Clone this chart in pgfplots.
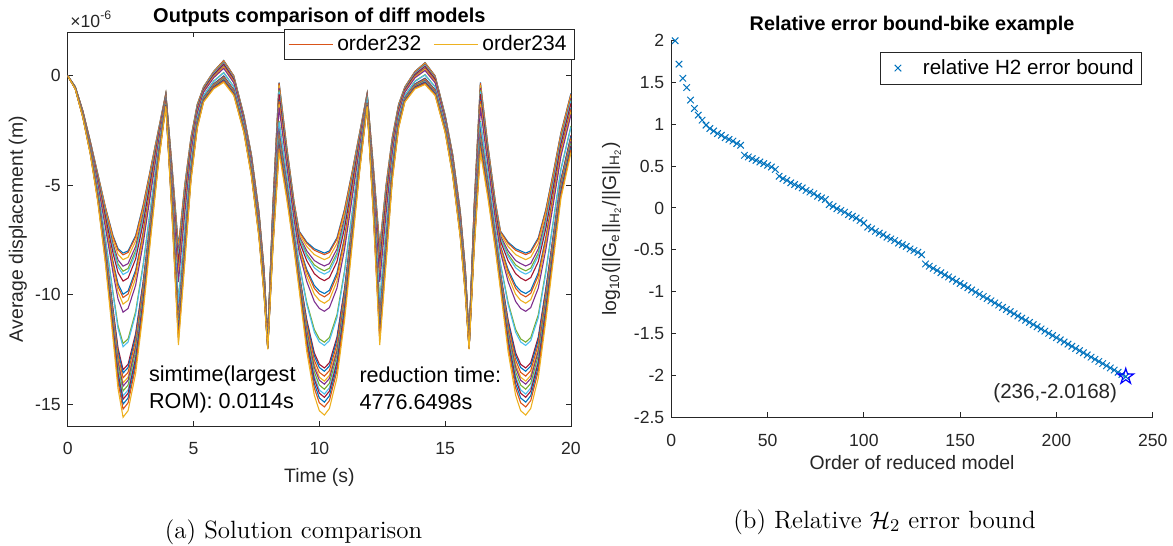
\documentclass[border=0pt]{standalone}
\usepackage{pgfplots}
\usepackage{pgfplotstable}
\pgfplotsset{compat=1.18}
\usepackage{fontspec}
\newfontfamily\arial{Liberation Sans}
\definecolor{mblue}{rgb}{0,0.4470,0.7410}
\definecolor{morange}{rgb}{0.8500,0.3250,0.0980}
\definecolor{myellow}{rgb}{0.9290,0.6940,0.1250}
\definecolor{mpurple}{rgb}{0.4940,0.1840,0.5560}
\definecolor{mgreen}{rgb}{0.4660,0.6740,0.1880}
\definecolor{mcyan}{rgb}{0.3010,0.7450,0.9330}
\definecolor{mred}{rgb}{0.6350,0.0780,0.1840}
\definecolor{mgray}{rgb}{0.15,0.15,0.15}
\pgfdeclareplotmark{pentagram}{%
  \pgfpathmoveto{\pgfpointpolar{90}{\pgfplotmarksize}}%
  \pgfpathlineto{\pgfpointpolar{126}{0.382\pgfplotmarksize}}%
  \pgfpathlineto{\pgfpointpolar{162}{\pgfplotmarksize}}%
  \pgfpathlineto{\pgfpointpolar{198}{0.382\pgfplotmarksize}}%
  \pgfpathlineto{\pgfpointpolar{234}{\pgfplotmarksize}}%
  \pgfpathlineto{\pgfpointpolar{270}{0.382\pgfplotmarksize}}%
  \pgfpathlineto{\pgfpointpolar{306}{\pgfplotmarksize}}%
  \pgfpathlineto{\pgfpointpolar{342}{0.382\pgfplotmarksize}}%
  \pgfpathlineto{\pgfpointpolar{18}{\pgfplotmarksize}}%
  \pgfpathlineto{\pgfpointpolar{54}{0.382\pgfplotmarksize}}%
  \pgfpathclose
  \pgfusepathqstroke
}
\pgfplotstableread{
t y1 y2 y3 y4 y5 y6 y7 y8 y9 y10 y11 y12 y13 y14 y15 y16 y17 y18 y19 y20 y21 y22 y23 y24
0 0 0 0 0 0 0 0 0 0 0 0 0 0 0 0 0 0 0 0 0 0 0 0 0
0.3 -0.50 -0.50 -0.50 -0.51 -0.51 -0.51 -0.52 -0.53 -0.53 -0.53 -0.54 -0.56 -0.56 -0.57 -0.57 -0.58 -0.58 -0.58 -0.58 -0.59 -0.59 -0.59 -0.60 -0.60
0.6 -1.60 -1.60 -1.61 -1.62 -1.63 -1.64 -1.65 -1.68 -1.68 -1.69 -1.71 -1.77 -1.77 -1.81 -1.82 -1.83 -1.84 -1.84 -1.85 -1.86 -1.87 -1.88 -1.89 -1.90
0.9 -3.00 -3.01 -3.02 -3.05 -3.07 -3.08 -3.10 -3.15 -3.16 -3.19 -3.22 -3.33 -3.34 -3.43 -3.44 -3.46 -3.47 -3.49 -3.50 -3.52 -3.53 -3.55 -3.57 -3.60
1.2 -4.50 -4.51 -4.55 -4.60 -4.64 -4.67 -4.72 -4.83 -4.85 -4.90 -4.97 -5.22 -5.24 -5.42 -5.45 -5.49 -5.53 -5.55 -5.59 -5.63 -5.66 -5.70 -5.74 -5.80
1.5 -6.00 -6.03 -6.10 -6.21 -6.29 -6.34 -6.44 -6.65 -6.70 -6.81 -6.94 -7.43 -7.48 -7.85 -7.90 -7.98 -8.05 -8.11 -8.18 -8.26 -8.31 -8.39 -8.47 -8.60
1.8 -7.30 -7.35 -7.49 -7.68 -7.82 -7.91 -8.10 -8.48 -8.57 -8.76 -8.99 -9.89 -9.98 -10.64 -10.73 -10.87 -11.01 -11.11 -11.25 -11.39 -11.48 -11.62 -11.77 -12.00
2.0 -7.90 -7.96 -8.16 -8.41 -8.60 -8.73 -8.99 -9.50 -9.63 -9.88 -10.20 -11.42 -11.55 -12.44 -12.57 -12.76 -12.96 -13.08 -13.28 -13.47 -13.60 -13.79 -13.98 -14.30
2.2 -8.10 -8.18 -8.40 -8.70 -8.93 -9.08 -9.38 -9.98 -10.13 -10.43 -10.80 -12.23 -12.38 -13.43 -13.58 -13.80 -14.03 -14.18 -14.40 -14.63 -14.78 -15.00 -15.23 -15.60
2.4 -8.00 -8.07 -8.29 -8.58 -8.80 -8.95 -9.24 -9.83 -9.97 -10.26 -10.63 -12.02 -12.16 -13.18 -13.33 -13.55 -13.77 -13.91 -14.13 -14.35 -14.50 -14.72 -14.94 -15.30
2.7 -7.30 -7.36 -7.55 -7.80 -7.99 -8.12 -8.37 -8.88 -9.00 -9.25 -9.57 -10.77 -10.89 -11.77 -11.90 -12.09 -12.28 -12.40 -12.59 -12.78 -12.91 -13.10 -13.29 -13.60
3.0 -5.90 -5.95 -6.10 -6.29 -6.44 -6.54 -6.73 -7.13 -7.22 -7.42 -7.66 -8.60 -8.69 -9.38 -9.48 -9.62 -9.77 -9.87 -10.02 -10.16 -10.26 -10.41 -10.56 -10.80
3.3 -4.20 -4.23 -4.33 -4.46 -4.55 -4.62 -4.74 -5.00 -5.06 -5.19 -5.35 -5.96 -6.02 -6.47 -6.54 -6.63 -6.73 -6.79 -6.89 -6.98 -7.05 -7.14 -7.24 -7.40
3.6 -2.50 -2.52 -2.56 -2.63 -2.68 -2.71 -2.77 -2.90 -2.93 -3.00 -3.08 -3.38 -3.41 -3.64 -3.67 -3.72 -3.76 -3.80 -3.84 -3.89 -3.92 -3.97 -4.02 -4.10
3.9 -0.80 -0.81 -0.82 -0.85 -0.87 -0.88 -0.90 -0.95 -0.96 -0.99 -1.02 -1.13 -1.14 -1.23 -1.24 -1.26 -1.27 -1.29 -1.30 -1.32 -1.33 -1.35 -1.37 -1.40
4.15 -4.20 -4.22 -4.29 -4.38 -4.45 -4.50 -4.59 -4.78 -4.82 -4.91 -5.03 -5.47 -5.51 -5.83 -5.88 -5.95 -6.02 -6.06 -6.13 -6.20 -6.25 -6.32 -6.39 -6.50
4.4 -7.80 -7.85 -7.98 -8.16 -8.30 -8.39 -8.57 -8.93 -9.02 -9.20 -9.42 -10.28 -10.37 -11.00 -11.09 -11.22 -11.36 -11.45 -11.58 -11.72 -11.81 -11.94 -12.08 -12.30
4.65 -5.00 -5.04 -5.14 -5.29 -5.40 -5.47 -5.61 -5.90 -5.97 -6.12 -6.30 -6.98 -7.05 -7.56 -7.63 -7.74 -7.84 -7.92 -8.02 -8.13 -8.20 -8.31 -8.42 -8.60
4.9 -2.80 -2.82 -2.88 -2.96 -3.02 -3.06 -3.14 -3.30 -3.34 -3.42 -3.52 -3.90 -3.94 -4.22 -4.26 -4.32 -4.38 -4.42 -4.48 -4.54 -4.58 -4.64 -4.70 -4.80
5.15 -1.30 -1.31 -1.34 -1.39 -1.42 -1.44 -1.49 -1.58 -1.60 -1.64 -1.70 -1.91 -1.93 -2.08 -2.10 -2.14 -2.17 -2.19 -2.22 -2.26 -2.28 -2.31 -2.35 -2.40
5.4 -0.50 -0.51 -0.53 -0.56 -0.58 -0.59 -0.62 -0.68 -0.69 -0.72 -0.75 -0.89 -0.90 -1.00 -1.01 -1.03 -1.05 -1.07 -1.09 -1.11 -1.12 -1.14 -1.17 -1.20
5.8 0.20 0.19 0.17 0.14 0.11 0.10 0.06 0.00 -0.02 -0.05 -0.09 -0.24 -0.26 -0.37 -0.38 -0.41 -0.43 -0.45 -0.47 -0.50 -0.51 -0.54 -0.56 -0.60
6.2 0.70 0.69 0.66 0.62 0.59 0.57 0.53 0.45 0.43 0.39 0.34 0.15 0.13 -0.01 -0.03 -0.06 -0.09 -0.11 -0.14 -0.17 -0.19 -0.22 -0.25 -0.30
6.6 0.00 -0.01 -0.04 -0.07 -0.10 -0.12 -0.15 -0.23 -0.24 -0.28 -0.32 -0.50 -0.51 -0.64 -0.66 -0.68 -0.71 -0.73 -0.76 -0.78 -0.80 -0.83 -0.86 -0.90
7.0 -1.80 -1.81 -1.83 -1.86 -1.89 -1.90 -1.94 -2.00 -2.02 -2.05 -2.09 -2.24 -2.26 -2.37 -2.38 -2.41 -2.43 -2.45 -2.47 -2.50 -2.51 -2.54 -2.56 -2.60
7.3 -3.60 -3.61 -3.64 -3.68 -3.71 -3.73 -3.77 -3.85 -3.87 -3.91 -3.96 -4.15 -4.17 -4.31 -4.33 -4.36 -4.39 -4.41 -4.44 -4.47 -4.49 -4.52 -4.55 -4.60
7.6 -6.20 -6.21 -6.25 -6.30 -6.33 -6.36 -6.40 -6.50 -6.52 -6.57 -6.63 -6.86 -6.88 -7.05 -7.08 -7.11 -7.15 -7.17 -7.21 -7.24 -7.27 -7.30 -7.34 -7.40
7.8 -8.80 -8.81 -8.85 -8.90 -8.93 -8.96 -9.00 -9.10 -9.12 -9.17 -9.23 -9.46 -9.48 -9.65 -9.68 -9.71 -9.75 -9.77 -9.81 -9.84 -9.87 -9.90 -9.94 -10.00
7.95 -12.00 -12.01 -12.02 -12.04 -12.06 -12.07 -12.09 -12.13 -12.14 -12.16 -12.18 -12.28 -12.29 -12.36 -12.37 -12.38 -12.40 -12.41 -12.42 -12.44 -12.45 -12.46 -12.48 -12.50
8.15 -6.00 -6.02 -6.08 -6.16 -6.22 -6.26 -6.34 -6.50 -6.54 -6.62 -6.72 -7.10 -7.14 -7.42 -7.46 -7.52 -7.58 -7.62 -7.68 -7.74 -7.78 -7.84 -7.90 -8.00
8.4 -0.30 -0.33 -0.43 -0.56 -0.65 -0.72 -0.84 -1.10 -1.16 -1.29 -1.45 -2.06 -2.12 -2.57 -2.64 -2.73 -2.83 -2.89 -2.99 -3.08 -3.15 -3.24 -3.34 -3.50
8.7 -3.20 -3.22 -3.30 -3.39 -3.46 -3.51 -3.61 -3.80 -3.85 -3.94 -4.06 -4.52 -4.57 -4.90 -4.95 -5.02 -5.10 -5.14 -5.22 -5.29 -5.34 -5.41 -5.48 -5.60
9.0 -5.80 -5.82 -5.89 -5.98 -6.04 -6.09 -6.17 -6.35 -6.39 -6.48 -6.59 -7.01 -7.05 -7.36 -7.41 -7.47 -7.54 -7.58 -7.65 -7.71 -7.76 -7.82 -7.89 -8.00
9.2 -7.10 -7.13 -7.21 -7.32 -7.40 -7.45 -7.56 -7.78 -7.83 -7.94 -8.07 -8.59 -8.64 -9.02 -9.07 -9.15 -9.23 -9.29 -9.37 -9.45 -9.50 -9.58 -9.67 -9.80
9.5 -7.60 -7.65 -7.80 -8.00 -8.15 -8.25 -8.45 -8.85 -8.95 -9.15 -9.40 -10.35 -10.45 -11.15 -11.25 -11.40 -11.55 -11.65 -11.80 -11.95 -12.05 -12.20 -12.35 -12.60
9.8 -7.90 -7.97 -8.17 -8.44 -8.64 -8.77 -9.04 -9.58 -9.71 -9.98 -10.31 -11.59 -11.72 -12.66 -12.79 -12.99 -13.19 -13.33 -13.53 -13.73 -13.86 -14.06 -14.27 -14.60
10.0 -8.00 -8.07 -8.29 -8.58 -8.80 -8.95 -9.24 -9.83 -9.97 -10.26 -10.63 -12.02 -12.16 -13.18 -13.33 -13.55 -13.77 -13.91 -14.13 -14.35 -14.50 -14.72 -14.94 -15.30
10.2 -8.10 -8.17 -8.40 -8.69 -8.91 -9.06 -9.36 -9.95 -10.10 -10.39 -10.76 -12.17 -12.32 -13.35 -13.50 -13.72 -13.95 -14.09 -14.32 -14.54 -14.69 -14.91 -15.13 -15.50
10.4 -8.00 -8.07 -8.29 -8.58 -8.79 -8.94 -9.22 -9.80 -9.94 -10.23 -10.59 -11.96 -12.10 -13.11 -13.26 -13.47 -13.69 -13.83 -14.05 -14.26 -14.41 -14.62 -14.84 -15.20
10.7 -7.40 -7.46 -7.66 -7.91 -8.10 -8.23 -8.49 -9.00 -9.13 -9.38 -9.70 -10.92 -11.05 -11.94 -12.07 -12.26 -12.46 -12.58 -12.78 -12.97 -13.10 -13.29 -13.48 -13.80
11.0 -6.10 -6.15 -6.30 -6.51 -6.66 -6.76 -6.97 -7.38 -7.48 -7.68 -7.94 -8.91 -9.01 -9.72 -9.82 -9.98 -10.13 -10.23 -10.38 -10.54 -10.64 -10.79 -10.95 -11.20
11.3 -4.40 -4.43 -4.54 -4.67 -4.77 -4.84 -4.98 -5.25 -5.32 -5.45 -5.62 -6.27 -6.34 -6.81 -6.88 -6.98 -7.09 -7.15 -7.26 -7.36 -7.43 -7.53 -7.63 -7.80
11.6 -2.60 -2.62 -2.67 -2.74 -2.80 -2.83 -2.91 -3.05 -3.09 -3.16 -3.25 -3.59 -3.63 -3.88 -3.91 -3.97 -4.02 -4.06 -4.11 -4.17 -4.20 -4.26 -4.31 -4.40
11.9 -0.80 -0.81 -0.82 -0.85 -0.87 -0.88 -0.90 -0.95 -0.96 -0.99 -1.02 -1.13 -1.14 -1.23 -1.24 -1.26 -1.27 -1.29 -1.30 -1.32 -1.33 -1.35 -1.37 -1.40
12.15 -4.20 -4.22 -4.29 -4.38 -4.45 -4.50 -4.59 -4.78 -4.82 -4.91 -5.03 -5.47 -5.51 -5.83 -5.88 -5.95 -6.02 -6.06 -6.13 -6.20 -6.25 -6.32 -6.39 -6.50
12.4 -7.80 -7.85 -7.98 -8.16 -8.30 -8.39 -8.57 -8.93 -9.02 -9.20 -9.42 -10.28 -10.37 -11.00 -11.09 -11.22 -11.36 -11.45 -11.58 -11.72 -11.81 -11.94 -12.08 -12.30
12.65 -5.00 -5.04 -5.14 -5.29 -5.40 -5.47 -5.61 -5.90 -5.97 -6.12 -6.30 -6.98 -7.05 -7.56 -7.63 -7.74 -7.84 -7.92 -8.02 -8.13 -8.20 -8.31 -8.42 -8.60
12.9 -2.80 -2.82 -2.88 -2.96 -3.02 -3.06 -3.14 -3.30 -3.34 -3.42 -3.52 -3.90 -3.94 -4.22 -4.26 -4.32 -4.38 -4.42 -4.48 -4.54 -4.58 -4.64 -4.70 -4.80
13.15 -1.30 -1.31 -1.34 -1.39 -1.42 -1.44 -1.49 -1.58 -1.60 -1.64 -1.70 -1.91 -1.93 -2.08 -2.10 -2.14 -2.17 -2.19 -2.22 -2.26 -2.28 -2.31 -2.35 -2.40
13.4 -0.50 -0.51 -0.53 -0.56 -0.58 -0.59 -0.62 -0.68 -0.69 -0.72 -0.75 -0.89 -0.90 -1.00 -1.01 -1.03 -1.05 -1.07 -1.09 -1.11 -1.12 -1.14 -1.17 -1.20
13.8 0.20 0.19 0.17 0.14 0.11 0.10 0.06 0.00 -0.02 -0.05 -0.09 -0.24 -0.26 -0.37 -0.38 -0.41 -0.43 -0.45 -0.47 -0.50 -0.51 -0.54 -0.56 -0.60
14.2 0.60 0.59 0.56 0.52 0.49 0.47 0.43 0.35 0.33 0.29 0.24 0.05 0.03 -0.11 -0.13 -0.16 -0.19 -0.21 -0.24 -0.27 -0.29 -0.32 -0.35 -0.40
14.6 0.00 -0.01 -0.04 -0.07 -0.10 -0.12 -0.15 -0.23 -0.24 -0.28 -0.32 -0.50 -0.51 -0.64 -0.66 -0.68 -0.71 -0.73 -0.76 -0.78 -0.80 -0.83 -0.86 -0.90
15.0 -1.80 -1.81 -1.83 -1.86 -1.89 -1.90 -1.94 -2.00 -2.02 -2.05 -2.09 -2.24 -2.26 -2.37 -2.38 -2.41 -2.43 -2.45 -2.47 -2.50 -2.51 -2.54 -2.56 -2.60
15.3 -3.60 -3.61 -3.64 -3.68 -3.71 -3.73 -3.77 -3.85 -3.87 -3.91 -3.96 -4.15 -4.17 -4.31 -4.33 -4.36 -4.39 -4.41 -4.44 -4.47 -4.49 -4.52 -4.55 -4.60
15.6 -6.20 -6.21 -6.25 -6.30 -6.33 -6.36 -6.40 -6.50 -6.52 -6.57 -6.63 -6.86 -6.88 -7.05 -7.08 -7.11 -7.15 -7.17 -7.21 -7.24 -7.27 -7.30 -7.34 -7.40
15.8 -8.80 -8.81 -8.85 -8.90 -8.93 -8.96 -9.00 -9.10 -9.12 -9.17 -9.23 -9.46 -9.48 -9.65 -9.68 -9.71 -9.75 -9.77 -9.81 -9.84 -9.87 -9.90 -9.94 -10.00
15.95 -12.00 -12.01 -12.02 -12.04 -12.06 -12.07 -12.09 -12.13 -12.14 -12.16 -12.18 -12.28 -12.29 -12.36 -12.37 -12.38 -12.40 -12.41 -12.42 -12.44 -12.45 -12.46 -12.48 -12.50
16.15 -6.00 -6.02 -6.08 -6.16 -6.22 -6.26 -6.34 -6.50 -6.54 -6.62 -6.72 -7.10 -7.14 -7.42 -7.46 -7.52 -7.58 -7.62 -7.68 -7.74 -7.78 -7.84 -7.90 -8.00
16.4 -0.30 -0.33 -0.43 -0.56 -0.65 -0.72 -0.84 -1.10 -1.16 -1.29 -1.45 -2.06 -2.12 -2.57 -2.64 -2.73 -2.83 -2.89 -2.99 -3.08 -3.15 -3.24 -3.34 -3.50
16.7 -3.20 -3.22 -3.30 -3.39 -3.46 -3.51 -3.61 -3.80 -3.85 -3.94 -4.06 -4.52 -4.57 -4.90 -4.95 -5.02 -5.10 -5.14 -5.22 -5.29 -5.34 -5.41 -5.48 -5.60
17.0 -5.80 -5.82 -5.89 -5.98 -6.04 -6.09 -6.17 -6.35 -6.39 -6.48 -6.59 -7.01 -7.05 -7.36 -7.41 -7.47 -7.54 -7.58 -7.65 -7.71 -7.76 -7.82 -7.89 -8.00
17.2 -7.10 -7.13 -7.21 -7.32 -7.40 -7.45 -7.56 -7.78 -7.83 -7.94 -8.07 -8.59 -8.64 -9.02 -9.07 -9.15 -9.23 -9.29 -9.37 -9.45 -9.50 -9.58 -9.67 -9.80
17.5 -7.60 -7.65 -7.80 -8.00 -8.15 -8.25 -8.45 -8.85 -8.95 -9.15 -9.40 -10.35 -10.45 -11.15 -11.25 -11.40 -11.55 -11.65 -11.80 -11.95 -12.05 -12.20 -12.35 -12.60
17.8 -7.90 -7.97 -8.17 -8.44 -8.64 -8.77 -9.04 -9.58 -9.71 -9.98 -10.31 -11.59 -11.72 -12.66 -12.79 -12.99 -13.19 -13.33 -13.53 -13.73 -13.86 -14.06 -14.27 -14.60
18.0 -8.00 -8.07 -8.29 -8.58 -8.80 -8.95 -9.24 -9.83 -9.97 -10.26 -10.63 -12.02 -12.16 -13.18 -13.33 -13.55 -13.77 -13.91 -14.13 -14.35 -14.50 -14.72 -14.94 -15.30
18.2 -8.10 -8.17 -8.40 -8.69 -8.91 -9.06 -9.36 -9.95 -10.10 -10.39 -10.76 -12.17 -12.32 -13.35 -13.50 -13.72 -13.95 -14.09 -14.32 -14.54 -14.69 -14.91 -15.13 -15.50
18.4 -8.00 -8.07 -8.29 -8.58 -8.79 -8.94 -9.22 -9.80 -9.94 -10.23 -10.59 -11.96 -12.10 -13.11 -13.26 -13.47 -13.69 -13.83 -14.05 -14.26 -14.41 -14.62 -14.84 -15.20
18.7 -7.40 -7.46 -7.66 -7.91 -8.10 -8.23 -8.49 -9.00 -9.13 -9.38 -9.70 -10.92 -11.05 -11.94 -12.07 -12.26 -12.46 -12.58 -12.78 -12.97 -13.10 -13.29 -13.48 -13.80
19.0 -6.10 -6.15 -6.30 -6.51 -6.66 -6.76 -6.97 -7.38 -7.48 -7.68 -7.94 -8.91 -9.01 -9.72 -9.82 -9.98 -10.13 -10.23 -10.38 -10.54 -10.64 -10.79 -10.95 -11.20
19.3 -4.40 -4.44 -4.56 -4.72 -4.84 -4.92 -5.08 -5.40 -5.48 -5.64 -5.84 -6.60 -6.68 -7.24 -7.32 -7.44 -7.56 -7.64 -7.76 -7.88 -7.96 -8.08 -8.20 -8.40
19.6 -2.60 -2.63 -2.72 -2.84 -2.93 -2.99 -3.11 -3.35 -3.41 -3.53 -3.68 -4.25 -4.31 -4.73 -4.79 -4.88 -4.97 -5.03 -5.12 -5.21 -5.27 -5.36 -5.45 -5.60
20.0 -0.80 -0.83 -0.91 -1.02 -1.10 -1.15 -1.26 -1.48 -1.53 -1.64 -1.77 -2.29 -2.34 -2.72 -2.77 -2.85 -2.93 -2.99 -3.07 -3.15 -3.20 -3.28 -3.37 -3.50
}\curvetab
\pgfplotstableread{
n e
2 2.00
4 1.72
6 1.55
8 1.44
10 1.29
12 1.19
14 1.11
16 1.05
18 0.99
20 0.95
22 0.92
24 0.89
26 0.87
28 0.84
30 0.82
32 0.80
34 0.77
36 0.75
38 0.63
40 0.61
42 0.59
44 0.57
46 0.55
48 0.53
50 0.51
52 0.49
54 0.46
56 0.38
58 0.35
60 0.33
62 0.30
64 0.28
66 0.26
68 0.24
70 0.21
72 0.19
74 0.17
76 0.14
78 0.12
80 0.10
82 0.04
84 0.02
86 -0.01
88 -0.03
90 -0.05
92 -0.08
94 -0.10
96 -0.12
98 -0.15
100 -0.18
102 -0.23
104 -0.25
106 -0.28
108 -0.30
110 -0.32
112 -0.35
114 -0.37
116 -0.39
118 -0.42
120 -0.44
122 -0.46
124 -0.49
126 -0.51
128 -0.53
130 -0.56
132 -0.670
134 -0.696
136 -0.722
138 -0.748
140 -0.774
142 -0.800
144 -0.825
146 -0.851
148 -0.877
150 -0.903
152 -0.929
154 -0.955
156 -0.981
158 -1.007
160 -1.033
162 -1.059
164 -1.084
166 -1.110
168 -1.136
170 -1.162
172 -1.188
174 -1.214
176 -1.240
178 -1.266
180 -1.292
182 -1.318
184 -1.343
186 -1.369
188 -1.395
190 -1.421
192 -1.447
194 -1.473
196 -1.499
198 -1.525
200 -1.551
202 -1.577
204 -1.602
206 -1.628
208 -1.654
210 -1.680
212 -1.706
214 -1.732
216 -1.758
218 -1.784
220 -1.810
222 -1.836
224 -1.861
226 -1.887
228 -1.913
230 -1.939
232 -1.965
234 -1.991
236 -2.017
}\errtab
\newcommand{\tickfont}{\arial\fontsize{8.8}{10}\selectfont}
\newcommand{\labfont}{\arial\fontsize{9.7}{11}\selectfont}
\newcommand{\cv}[2]{\addplot[#2, line width=0.55pt, forget plot] table[x=t,y=y#1]{\curvetab};}
\begin{document}
\begin{tikzpicture}
\path[use as bounding box] (0pt,0pt) rectangle (586.5pt,-273pt);
\begin{axis}[
  at={(33.85pt,-213pt)}, anchor=south west,
  width=251.65pt, height=197pt, scale only axis,
  xmin=0, xmax=20, ymin=-16, ymax=2,
  xtick={0,5,10,15,20}, xticklabels={0,5,10,15,20},
  ytick={-15,-10,-5,0}, yticklabels={-15,-10,-5,0},
  tick align=inside, major tick length=2.5pt,
  axis line style={draw=mgray, line width=0.5pt},
  tick style={draw=mgray, line width=0.5pt},
  ticklabel style={font=\tickfont, text=mgray},
  xticklabel style={yshift=-4.5pt},
  xlabel={Time (s)}, ylabel={Average displacement (m)},
  label style={font=\labfont, text=mgray},
  xlabel style={at={(axis description cs:0.5,-0.1300)}, anchor=center},
  ylabel style={at={(axis description cs:-0.0989,0.5)}, anchor=center},
  every axis title shift=0pt,
  title={Outputs comparison of diff models},
  title style={font=\arial\bfseries\fontsize{10}{12}\selectfont, at={(axis description cs:0.5,1.038)}, anchor=center},
  legend style={at={(1.008,1.0076)}, anchor=north east, draw=mgray, line width=0.5pt, fill=white,
    font=\arial\fontsize{10.5}{12}\selectfont, inner xsep=2pt, inner ysep=1pt,
    /tikz/every even column/.append style={column sep=4pt}},
  legend columns=2,
  legend image code/.code={\draw[#1] (0pt,0pt) -- (22pt,0pt);},
]
\cv{1}{mblue}
\cv{2}{morange}
\cv{3}{myellow}
\cv{4}{mpurple}
\cv{5}{mgreen}
\cv{6}{mcyan}
\cv{7}{mred}
\cv{8}{mblue}
\cv{9}{morange}
\cv{10}{myellow}
\cv{11}{mpurple}
\cv{12}{mgreen}
\cv{13}{mcyan}
\cv{14}{mred}
\cv{15}{mblue}
\cv{16}{morange}
\cv{17}{myellow}
\cv{18}{mpurple}
\cv{19}{mgreen}
\cv{20}{mcyan}
\cv{21}{mred}
\cv{22}{mblue}
\addplot[morange, line width=0.55pt] table[x=t,y=y23]{\curvetab};
\addlegendentry{order232}
\addplot[myellow, line width=0.55pt] table[x=t,y=y24]{\curvetab};
\addlegendentry{order234}
\node[anchor=west, align=left, inner sep=0pt, font=\arial\fontsize{10.8}{13.5}\selectfont, text=black] at (axis cs:3.22,-14.33) {simtime(largest\\ROM): 0.0114s};
\node[anchor=west, align=left, inner sep=0pt, font=\arial\fontsize{10.8}{13.5}\selectfont, text=black] at (axis cs:11.58,-14.27) {reduction time:\\4776.6498s};
\end{axis}
\node[anchor=base west, inner sep=0pt, font=\tickfont, text=mgray] at (35pt,-13.5pt) {×10\textsuperscript{-6}};
\begin{axis}[
  at={(335.65pt,-208.5pt)}, anchor=south west,
  width=240.7pt, height=188.15pt, scale only axis,
  xmin=0, xmax=250, ymin=-2.5, ymax=2,
  axis x line*=bottom, axis y line*=left,
  xtick={0,50,100,150,200,250}, xticklabels={0,50,100,150,200,250},
  ytick={-2.5,-2,-1.5,-1,-0.5,0,0.5,1,1.5,2},
  yticklabels={-2.5,-2,-1.5,-1,-0.5,0,0.5,1,1.5,2},
  tick align=inside, major tick length=2.5pt,
  axis line style={draw=mgray, line width=0.5pt},
  tick style={draw=mgray, line width=0.5pt},
  ticklabel style={font=\tickfont, text=mgray},
  xticklabel style={yshift=-5pt},
  xlabel={Order of reduced model},
  ylabel={log\textsubscript{10}(||G\textsubscript{e}||\textsubscript{H\textsubscript{2}}/||G||\textsubscript{H\textsubscript{2}})},
  label style={font=\labfont, text=mgray},
  xlabel style={at={(axis description cs:0.5,-0.1222)}, anchor=center},
  ylabel style={at={(axis description cs:-0.1242,0.5)}, anchor=center},
  every axis title shift=0pt,
  title={Relative error bound-bike example},
  title style={font=\arial\bfseries\fontsize{9.9}{12}\selectfont, at={(axis description cs:0.5,1.0417)}, anchor=center},
  legend style={at={(0.978,0.971)}, anchor=north east, draw=mgray, line width=0.5pt, fill=white,
    font=\arial\fontsize{10.3}{12}\selectfont, inner xsep=2pt, inner ysep=1.5pt},
]
\addplot[only marks, mark=x, mark size=2.3pt, color=mblue, line width=0.5pt,
  legend image code/.code={\path[draw=none,fill=none] (0pt,-1pt) rectangle (17pt,1pt); \draw[##1, only marks] plot coordinates {(6.5pt,0pt)};}] table[x=n,y=e]{\errtab};
\addlegendentry{relative H2 error bound}
\addplot[only marks, mark=pentagram, mark size=4.1pt, color=blue, line width=0.6pt, forget plot] coordinates {(236,-2.0168)};
\node[anchor=east, inner sep=0pt, font=\arial\fontsize{10.3}{12}\selectfont, text=mgray] at (axis cs:231.7,-2.22) {(236,-2.0168)};
\end{axis}
\node[font=\fontsize{12.5}{15}\selectfont] at (146.75pt,-266pt) {(a) Solution comparison};
\node[font=\fontsize{12.5}{15}\selectfont] at (442.25pt,-261pt) {(b) Relative $\mathcal{H}_2$ error bound};
\end{tikzpicture}
\end{document}
